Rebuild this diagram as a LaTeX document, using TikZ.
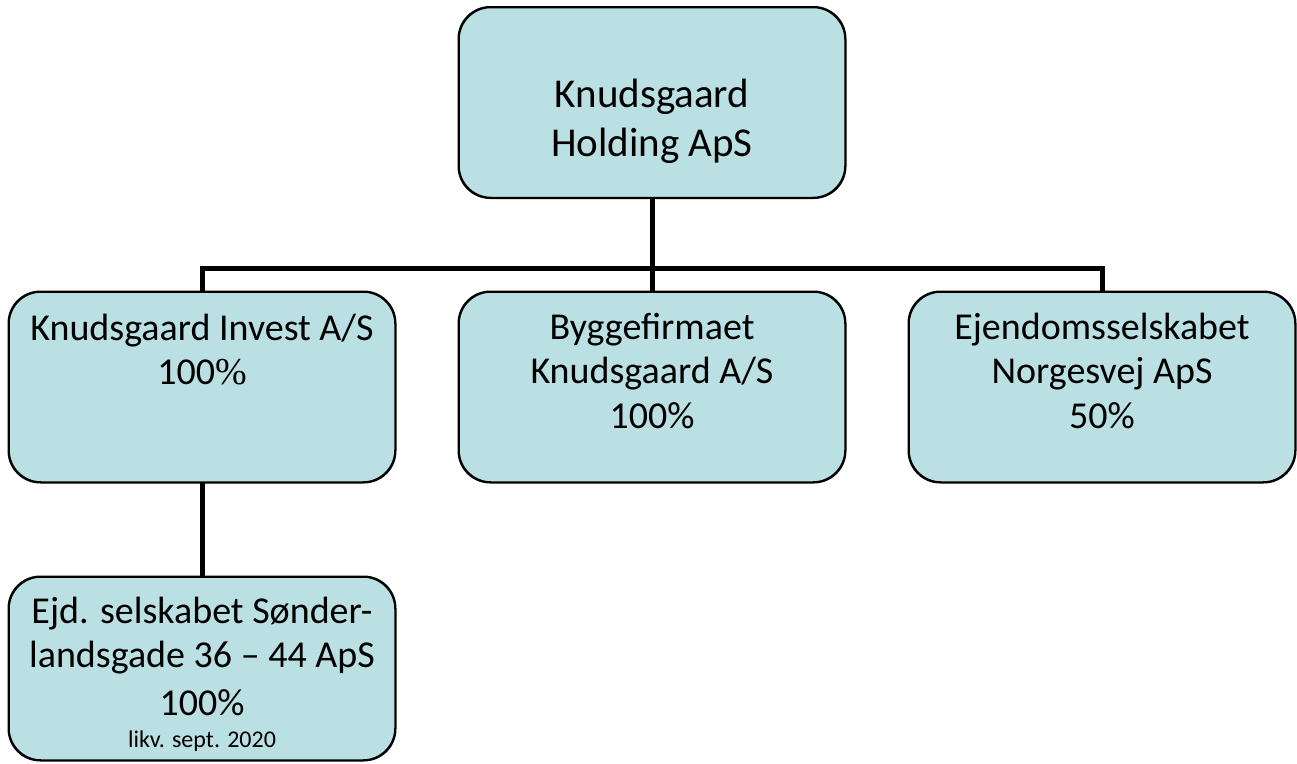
\documentclass[tikz,border=0pt]{standalone}
\usepackage{fontspec}
\setmainfont{Carlito}
\newfontfamily\serifpct{Liberation Serif}
\definecolor{boxfill}{RGB}{187,224,227}
\tikzset{
  orgbox/.style={draw=black, line width=1.5pt, fill=boxfill, rounded corners=32pt,
    minimum width=386pt, minimum height=190pt, inner sep=0pt},
  conn/.style={draw=black, line width=5pt},
  lbl/.style={anchor=base, inner sep=0pt, font=\fontsize{38}{46}\selectfont},
  biglbl/.style={anchor=base, inner sep=0pt, font=\fontsize{41}{49}\selectfont},
  smalllbl/.style={anchor=base, inner sep=0pt, font=\fontsize{24}{28}\selectfont}
}
\begin{document}
\begin{tikzpicture}[x=1pt,y=-1pt]
\useasboundingbox (0,0) rectangle (1297,763);
% boxes
\node[orgbox] (top) at (652,102.5) {};
\node[orgbox] (inv) at (202,387) {};
\node[orgbox] (byg) at (652,387) {};
\node[orgbox] (ejd) at (1102,387) {};
\node[orgbox, minimum height=183pt] (son) at (202,668.5) {};
% connectors
\coordinate (bus) at (652,268);
\draw[conn] (top.south) -- (byg.north);
\draw[conn] (inv.north) |- (bus) -| (ejd.north);
\draw[conn] (inv.south) -- (son.north);
% redraw borders over connector ends
\draw[line width=1.5pt, rounded corners=32pt] (top.south west) rectangle (top.north east);
\draw[line width=1.5pt, rounded corners=32pt] (inv.south west) rectangle (inv.north east);
\draw[line width=1.5pt, rounded corners=32pt] (byg.south west) rectangle (byg.north east);
\draw[line width=1.5pt, rounded corners=32pt] (ejd.south west) rectangle (ejd.north east);
\draw[line width=1.5pt, rounded corners=32pt] (son.south west) rectangle (son.north east);
% texts
\node[biglbl] (t1) at (652,107) {Knudsgaard};
\node[biglbl] (t2) at (652,156) {Holding ApS};
\node[lbl] (i1) at (202,340) {Knudsgaard Invest A/S};
\node[lbl] (i2) at (202,384) {100{\serifpct\%}};
\node[lbl] (b1) at (652,339) {Byggefirmaet};
\node[lbl] (b2) at (652,383) {Knudsgaard A/S};
\node[lbl] (b3) at (652,428) {100\%};
\node[lbl] (e1) at (1102,339) {Ejendomsselskabet};
\node[lbl] (e2) at (1102,383) {Norgesvej ApS};
\node[lbl] (e3) at (1102,428) {50\%};
\node[lbl] (s1) at (202,623) {Ejd. selskabet Sønder-};
\node[lbl] (s2) at (202,667) {landsgade 36 – 44 ApS};
\node[lbl] (s3) at (202,715) {100\%};
\node[smalllbl] (s4) at (202,747) {likv. sept. 2020};
\end{tikzpicture}
\end{document}
